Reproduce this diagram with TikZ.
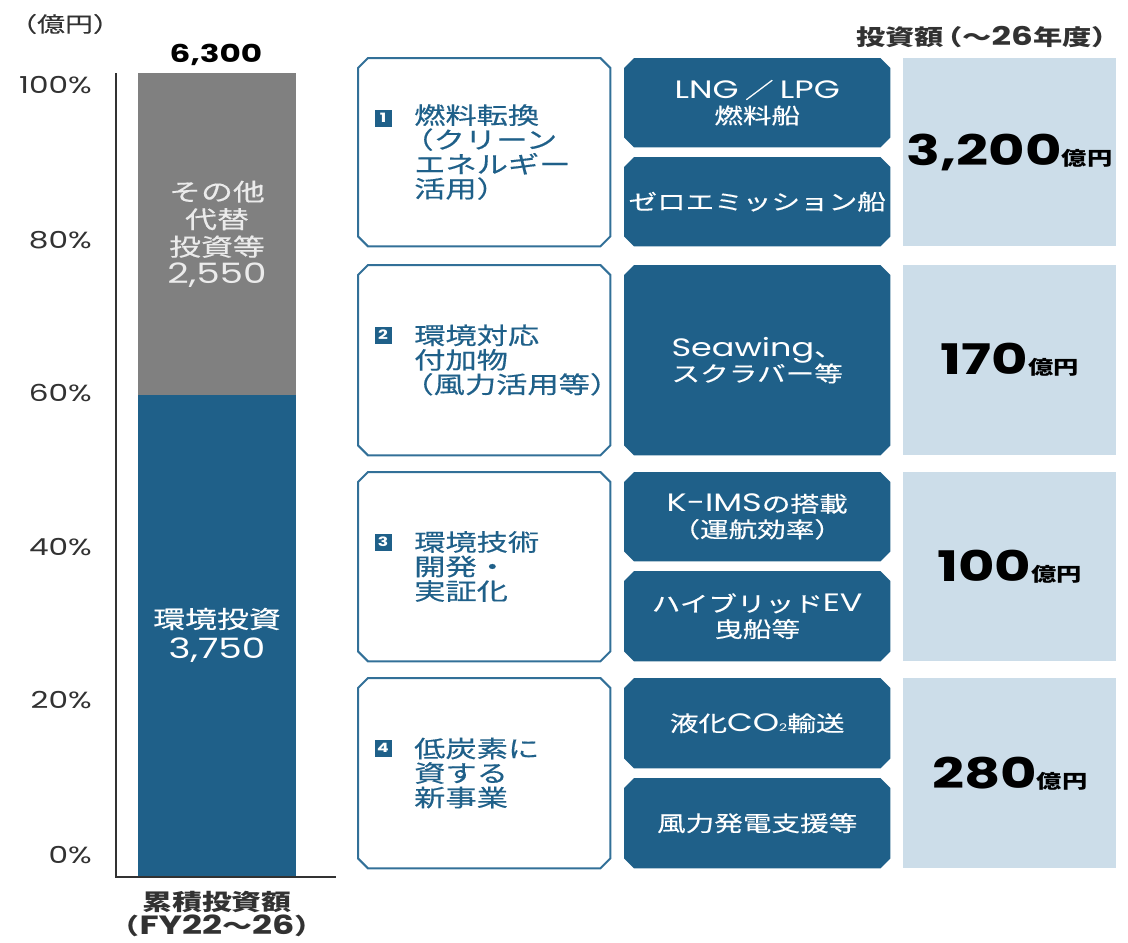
\documentclass[tikz,border=0pt]{standalone}
\usepackage{xcolor}
\usepackage{fontspec}
\setmainfont{Noto Sans CJK JP}[FakeStretch=1.33, UprightFeatures={FakeBold=0.4}]
\newfontfamily\lat{Poppins}[FakeStretch=1.33, Scale=1.17]
\usepackage{tikz}
\usetikzlibrary{backgrounds}

\definecolor{kblue}{RGB}{31,96,137}
\definecolor{kline}{RGB}{50,112,152}
\definecolor{kgray}{RGB}{128,128,128}
\definecolor{klight}{RGB}{204,221,233}
\definecolor{ktext}{RGB}{50,50,50}

\begin{document}
\begin{tikzpicture}[x=1pt, y=-1pt,
    tick/.style={anchor=east, text=ktext, inner sep=0pt, font=\lat\fontsize{20}{24}\selectfont},
    bartext/.style={align=center, inner sep=0pt, font=\fontsize{24}{27.5}\selectfont},
    catbox/.style={anchor=north west, minimum width=252pt, inner sep=0pt},
    cattext/.style={anchor=west, align=left, text=kblue, inner sep=0pt, font=\fontsize{23.5}{24.5}\selectfont},
    badge/.style={fill=kblue, text=white, minimum size=17pt, inner sep=0pt, font=\lat\bfseries\fontsize{11}{11}\selectfont},
    itembox/.style={anchor=north west, minimum width=266pt, inner sep=0pt, align=center, text=white, font=\fontsize{21.5}{25.5}\selectfont},
    valbox/.style={anchor=north west, fill=klight, minimum width=213pt, inner sep=0pt}]

    \useasboundingbox (0,0) rectangle (1128,943);

    \def\lp{\kern-.5em（}

    \def\chamfer#1#2{
      \begin{scope}[on background layer]
        \path[#2] ([xshift=10pt]#1.north west) -- ([xshift=-10pt]#1.north east) -- ([yshift=-10pt]#1.north east)
          -- ([yshift=10pt]#1.south east) -- ([xshift=-10pt]#1.south east) -- ([xshift=10pt]#1.south west)
          -- ([yshift=10pt]#1.south west) -- ([yshift=-10pt]#1.north west) -- cycle;
      \end{scope}
    }

    % left: cumulative bar
    \node[anchor=west, text=ktext, inner sep=0pt, font=\fontsize{21}{22}\selectfont] (unit) at (9,24) {（億円）};
    \node[inner sep=0pt, font=\lat\bfseries\fontsize{21}{24}\selectfont] (total) at (216,55) {6,300};

    \foreach \p/\y in {100/85, 80/240, 60/393, 40/547, 20/700, 0/855}
      \node[tick] (tick\p) at (92,\y) {\p\%};

    \node[fill=kgray, anchor=north west, minimum width=158pt, minimum height=322pt, inner sep=0pt] (other) at (138,73) {};
    \node[fill=kblue, anchor=north west, minimum width=158pt, minimum height=482pt, inner sep=0pt] (env) at (138,395) {};
    \draw[ktext, line width=1.5pt] (116,73) -- (116,877) -- (336,877);

    \node[bartext, text=black!8] (othertext) at (217,234) {その他\\代替\\投資等\\{\lat 2,550}};
    \node[bartext, text=white, font=\fontsize{24}{30}\selectfont] (envtext) at (217,635) {環境投資\\{\lat 3,750}};
    \node[align=center, inner sep=0pt, text=ktext, font=\bfseries\fontsize{22.5}{23.5}\selectfont] (axis) at (217,914)
      {累積投資額\\（{\lat FY22}〜{\lat 26}）};

    % right: breakdown
    \node[anchor=east, inner sep=0pt, text=ktext, font=\bfseries\fontsize{22}{24}\selectfont] (head) at (1121,37)
      {投資額\kern-.5em（〜{\lat 26}年度）};

    \foreach \i/\ya/\yb/\by/\val/\cat in {
        1/58/246/118/{3,200}/{燃料転換\\\lp クリーン\\エネルギー\\活用）},
        2/265/455/335/170/{環境対応\\付加物\\\lp 風力活用等）},
        3/472/661/542/100/{環境技術\\開発・\\実証化},
        4/678/868/748/280/{低炭素に\\資する\\新事業}} {
      \node[catbox, minimum height={(\yb-\ya)*1pt}] (cat\i) at (358,\ya) {};
      \chamfer{cat\i}{draw=kline, line width=2pt, fill=white}
      \node[cattext] (cattext\i) at (414,{(\ya+\yb)/2}) {\cat};
      \node[badge] (badge\i) at (383,\by) {\i};
      \node[valbox, minimum height={(\yb-\ya)*1pt}] (val\i) at (903,\ya)
        {{\lat\bfseries\fontsize{36}{40}\selectfont \val}{\bfseries\fontsize{19}{20}\selectfont 億円}};
    }

    \foreach \n/\ya/\yb/\txt in {
        1a/58/147/{{\lat LNG} ／ {\lat LPG}\\燃料船},
        1b/157/246/{ゼロエミッション船},
        2/265/455/{{\lat Seawing}、\\スクラバー等},
        3a/472/561/{{\lat K-IMS}の搭載\\（運航効率）},
        3b/571/661/{ハイブリッド{\lat EV}\\曳船等},
        4a/678/768/{液化{\lat CO}{\lat\fontsize{9}{9}\selectfont 2}輸送},
        4b/778/868/{風力発電支援等}} {
      \node[itembox, minimum height={(\yb-\ya)*1pt}] (item\n) at (624,\ya) {\txt};
      \chamfer{item\n}{fill=kblue}
    }

\end{tikzpicture}
\end{document}
